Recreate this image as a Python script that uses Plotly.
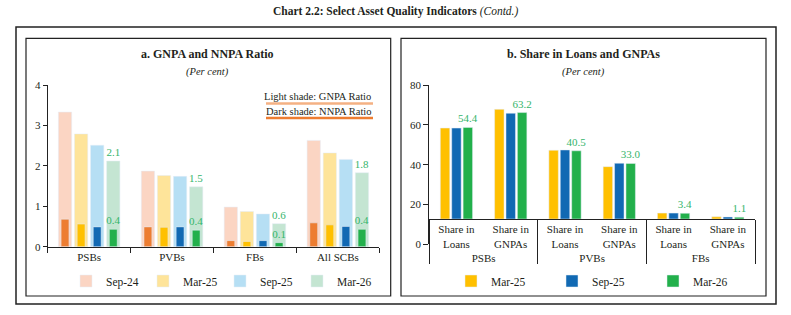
import plotly.graph_objects as go

W, H = 791, 315
def fx(p): return p / W
def fy(p): return 1 - p / H

FONT = "Liberation Serif"
TXT = "#231f20"
LBL = "#35b56b"

# ---------------- data: panel a ----------------
banks_a = ["PSBs", "PVBs", "FBs", "All SCBs"]
periods_a = ["Sep-24", "Mar-25", "Sep-25", "Mar-26"]
gnpa_sep24 = [3.33, 1.87, 0.98, 2.63]
gnpa_mar25 = [2.79, 1.76, 0.87, 2.32]
gnpa_sep25 = [2.51, 1.74, 0.81, 2.16]
gnpa_mar26 = [2.12, 1.48, 0.57, 1.83]
nnpa_sep24 = [0.68, 0.49, 0.15, 0.59]
nnpa_mar25 = [0.56, 0.48, 0.13, 0.54]
nnpa_sep25 = [0.49, 0.49, 0.15, 0.50]
nnpa_mar26 = [0.43, 0.41, 0.10, 0.43]
ticks_a = [0, 1, 2, 3, 4]

# ---------------- data: panel b ----------------
groups_b = ["PSBs", "PSBs", "PVBs", "PVBs", "FBs", "FBs"]
metrics_b = ["Share in<br>Loans", "Share in<br>GNPAs"] * 3
periods_b = ["Mar-25", "Sep-25", "Mar-26"]
share_mar25 = [54.0, 65.1, 40.8, 31.1, 3.5, 1.3]
share_sep25 = [54.0, 62.8, 41.0, 33.1, 3.5, 1.2]
share_mar26 = [54.4, 63.2, 40.5, 33.0, 3.4, 1.1]
ticks_b = [0, 20, 40, 60, 80]

light_cols = ["#fbd5c3", "#fee49a", "#b6dff4", "#c4e5d2"]
dark_cols = ["#ed7d31", "#ffc000", "#1169b3", "#22b04b"]
b_cols = ["#ffc000", "#1169b3", "#22b04b"]

fig = go.Figure()

gnpa_all = [gnpa_sep24, gnpa_mar25, gnpa_sep25, gnpa_mar26]
nnpa_all = [nnpa_sep24, nnpa_mar25, nnpa_sep25, nnpa_mar26]
centers = [-0.291, -0.097, 0.097, 0.291]
wl, wd = 0.16, 0.095
for i, p in enumerate(periods_a):
    last = i == 3
    fig.add_trace(go.Bar(
        x=banks_a, y=gnpa_all[i], name=p, marker_color=light_cols[i],
        width=wl, offset=centers[i] - wl / 2, xaxis="x", yaxis="y",
        legend="legend",
        texttemplate="%{y:.1f}" if last else None,
        textposition="outside" if last else "none",
        textfont=dict(color=LBL, size=11, family=FONT),
        constraintext="none", cliponaxis=False, hoverinfo="skip"))
for i, p in enumerate(periods_a):
    last = i == 3
    fig.add_trace(go.Bar(
        x=banks_a, y=nnpa_all[i], name=p + " NNPA", marker_color=dark_cols[i],
        width=wd, offset=centers[i] - wd / 2, xaxis="x", yaxis="y",
        showlegend=False,
        texttemplate="%{y:.1f}" if last else None,
        textposition="outside" if last else "none",
        textfont=dict(color=LBL, size=11, family=FONT),
        constraintext="none", cliponaxis=False, hoverinfo="skip"))

share_all = [share_mar25, share_sep25, share_mar26]
for i, p in enumerate(periods_b):
    last = i == 2
    fig.add_trace(go.Bar(
        x=[groups_b, metrics_b], y=share_all[i], name=p, marker_color=b_cols[i],
        xaxis="x2", yaxis="y2", legend="legend2",
        texttemplate="%{y:.1f}" if last else None,
        textposition="outside" if last else "none",
        textfont=dict(color=LBL, size=11, family=FONT),
        constraintext="none", cliponaxis=False, hoverinfo="skip"))

# dummy trace for the displayed value axis of panel b
fig.add_trace(go.Scatter(x=[None], y=[None], xaxis="x3", yaxis="y3",
                         showlegend=False, hoverinfo="skip"))

axfont = dict(family=FONT, size=11, color=TXT)
fig.update_layout(
    width=W, height=H, margin=dict(l=0, r=0, t=0, b=0, autoexpand=False),
    paper_bgcolor="white", plot_bgcolor="rgba(0,0,0,0)",
    font=dict(family=FONT, color=TXT),
    barmode="group", bargap=0.37, bargroupgap=0.17,
    xaxis=dict(domain=[fx(47.7), fx(379.3)], anchor="y", showline=True,
               linecolor="#222", linewidth=1.2, ticks="outside", ticklen=5,
               tickson="boundaries", tickcolor="#222", tickfont=axfont,
               showgrid=False, fixedrange=True),
    yaxis=dict(domain=[fy(246.7), fy(85)], anchor="x", range=[0, 4],
               tickvals=ticks_a, showline=True, linecolor="#222", linewidth=1.2,
               ticks="outside", ticklen=4, tickcolor="#222", tickfont=axfont,
               showgrid=False, zeroline=False),
    xaxis2=dict(domain=[fx(429.3), fx(755)], anchor="y2", type="multicategory",
                showline=True, linecolor="#222", linewidth=1.2, ticks="",
                tickangle=0,
                showdividers=True, dividercolor="#222", dividerwidth=1.2,
                tickfont=axfont, showgrid=False),
    yaxis2=dict(domain=[fy(219), fy(85)], anchor="x2",
                range=[0, (219 - 85) / 1.684], visible=False),
    xaxis3=dict(domain=[fx(429.3), fx(755)], anchor="y3", visible=False,
                range=[0, 1]),
    yaxis3=dict(domain=[fy(244.3), fy(85)], anchor="x3", range=[0, 80],
                tickvals=ticks_b, showline=True, linecolor="#222", linewidth=1.2,
                ticks="outside", ticklen=5, tickcolor="#222", tickfont=axfont,
                showgrid=False, zeroline=False),
    legend=dict(orientation="h", x=fx(66), y=fy(281), xanchor="left",
                yanchor="middle", entrywidth=32, entrywidthmode="pixels",
                font=dict(family=FONT, size=11.5, color=TXT),
                bgcolor="rgba(0,0,0,0)", itemwidth=30),
    legend2=dict(orientation="h", x=fx(451), y=fy(281), xanchor="left",
                 yanchor="middle", entrywidth=56, entrywidthmode="pixels",
                 font=dict(family=FONT, size=11.5, color=TXT),
                 bgcolor="rgba(0,0,0,0)", itemwidth=30),
)

ann = [
    dict(text="<b>Chart 2.2: Select Asset Quality Indicators</b> <i>(Contd.)</i>",
         x=fx(395), y=fy(12), size=11.5),
    dict(text="<b>a. GNPA and NNPA Ratio</b>", x=fx(208), y=fy(54), size=12),
    dict(text="<i>(Per cent)</i>", x=fx(208), y=fy(72), size=10.5),
    dict(text="<b>b. Share in Loans and GNPAs</b>", x=fx(583), y=fy(54), size=12),
    dict(text="<i>(Per cent)</i>", x=fx(583), y=fy(72), size=10.5),
]
for a in ann:
    fig.add_annotation(text=a["text"], x=a["x"], y=a["y"], xref="paper",
                       yref="paper", showarrow=False, xanchor="center",
                       yanchor="middle",
                       font=dict(family=FONT, size=a["size"], color=TXT))
for t, yy in [("Light shade: GNPA Ratio", 96.5), ("Dark shade: NNPA Ratio", 111.5)]:
    fig.add_annotation(text=t, x=fx(373), y=fy(yy), xref="paper", yref="paper",
                       showarrow=False, xanchor="right", yanchor="middle",
                       font=dict(family=FONT, size=10.5, color=TXT))

shapes = [
    dict(type="line", x0=fx(266), x1=fx(373), y0=fy(103.5), y1=fy(103.5),
         line=dict(color="#f4b183", width=2.5)),
    dict(type="line", x0=fx(266), x1=fx(373), y0=fy(118), y1=fy(118),
         line=dict(color="#ed7d31", width=2.5)),
    dict(type="rect", x0=fx(16), x1=fx(776), y0=fy(304), y1=fy(27),
         line=dict(color="#222", width=1.5)),
    dict(type="rect", x0=fx(26), x1=fx(390.7), y0=fy(296), y1=fy(38.3),
         line=dict(color="#222", width=1.2)),
    dict(type="rect", x0=fx(401), x1=fx(766), y0=fy(296), y1=fy(38.3),
         line=dict(color="#222", width=1.2)),
]
for s in shapes:
    fig.add_shape(xref="paper", yref="paper", layer="above", **s)

fig.write_html("out.html")
